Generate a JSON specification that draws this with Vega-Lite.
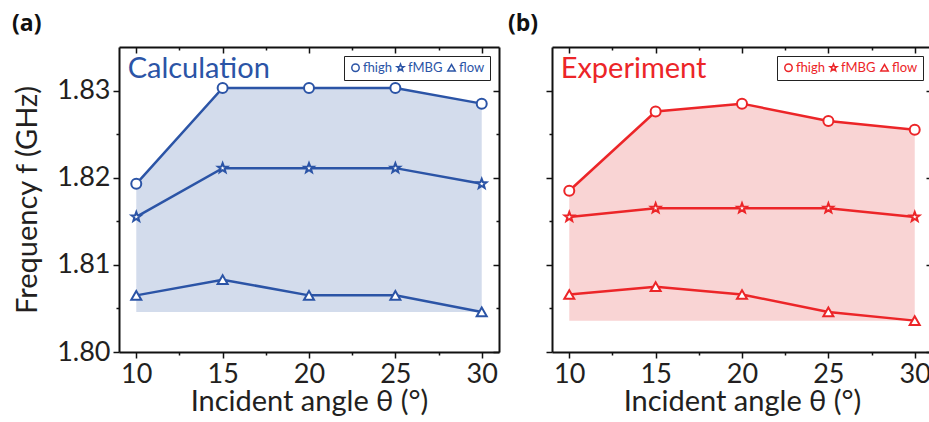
{
  "$schema": "https://vega.github.io/schema/vega-lite/v6.json",
  "background": "white",
  "padding": {"left": 12, "top": 13, "right": 0, "bottom": 0},
  "bounds": "flush",
  "spacing": 53,
  "config": {
    "font": "Lato",
    "view": {"stroke": null},
    "axis": {
      "labelFont": "Lato", "titleFont": "Lato",
      "labelColor": "#231F20", "titleColor": "#231F20",
      "titleFontWeight": "normal", "grid": false,
      "domainColor": "#111", "domainWidth": 2,
      "tickColor": "#111", "tickWidth": 1.5,
      "labelFontSize": 27, "titleFontSize": 29
    }
  },
  "datasets": {
    "calc": [
      {"series": "high", "angle": 10, "f": 1.8193},
      {"series": "high", "angle": 15, "f": 1.8303},
      {"series": "high", "angle": 20, "f": 1.8303},
      {"series": "high", "angle": 25, "f": 1.8303},
      {"series": "high", "angle": 30, "f": 1.8285},
      {"series": "MBG", "angle": 10, "f": 1.8155},
      {"series": "MBG", "angle": 15, "f": 1.8211},
      {"series": "MBG", "angle": 20, "f": 1.8211},
      {"series": "MBG", "angle": 25, "f": 1.8211},
      {"series": "MBG", "angle": 30, "f": 1.8193},
      {"series": "low", "angle": 10, "f": 1.8065},
      {"series": "low", "angle": 15, "f": 1.8083},
      {"series": "low", "angle": 20, "f": 1.8065},
      {"series": "low", "angle": 25, "f": 1.8065},
      {"series": "low", "angle": 30, "f": 1.8046}
    ],
    "exp": [
      {"series": "high", "angle": 10, "f": 1.8185},
      {"series": "high", "angle": 15, "f": 1.8276},
      {"series": "high", "angle": 20, "f": 1.8285},
      {"series": "high", "angle": 25, "f": 1.8265},
      {"series": "high", "angle": 30, "f": 1.8255},
      {"series": "MBG", "angle": 10, "f": 1.8155},
      {"series": "MBG", "angle": 15, "f": 1.8165},
      {"series": "MBG", "angle": 20, "f": 1.8165},
      {"series": "MBG", "angle": 25, "f": 1.8165},
      {"series": "MBG", "angle": 30, "f": 1.8155},
      {"series": "low", "angle": 10, "f": 1.8066},
      {"series": "low", "angle": 15, "f": 1.8075},
      {"series": "low", "angle": 20, "f": 1.8066},
      {"series": "low", "angle": 25, "f": 1.8046},
      {"series": "low", "angle": 30, "f": 1.8036}
    ]
  },
  "resolve": {"scale": {"shape": "independent"}, "legend": {"shape": "independent"}},
  "hconcat": [
    {
      "width": 380, "height": 305,
      "title": {"text": "(a)", "anchor": "start", "frame": "group", "dx": -107, "offset": 10, "fontSize": 23, "fontWeight": "bold", "font": "Open Sans", "color": "#111"},
      "data": {"name": "calc"},
      "resolve": {"axis": {"x": "independent", "y": "independent"}},
      "layer": [
        {
          "transform": [{"filter": "datum.series == 'high'"}],
          "mark": {"type": "area", "color": "#D3DCEC", "opacity": 1},
          "encoding": {
            "x": {"field": "angle", "type": "quantitative", "scale": {"domain": [9, 31], "nice": false},
              "axis": {"orient": "bottom", "values": [10, 15, 20, 25, 30], "format": "d", "tickSize": 6,
                "labelOverlap": false, "labelFlush": false, "labelPadding": 3, "titlePadding": 0,
                "title": "Incident angle θ (°)"}},
            "y": {"field": "f", "type": "quantitative", "scale": {"domain": [1.8, 1.835], "nice": false, "zero": false},
              "axis": {"orient": "left", "values": [1.8, 1.81, 1.82, 1.83], "format": ".2f", "tickSize": 6,
                "labelOverlap": false, "labelFlush": false, "labelPadding": 3, "titlePadding": 14,
                "title": "Frequency f (GHz)"}},
            "y2": {"datum": 1.8046}
          }
        },
        {
          "mark": {"type": "line", "color": "#2B54A6", "strokeWidth": 2.5},
          "encoding": {
            "x": {"field": "angle", "type": "quantitative",
              "axis": {"orient": "top", "values": [10, 15, 20, 25, 30], "labels": false, "title": null, "tickSize": -6}},
            "y": {"field": "f", "type": "quantitative",
              "axis": {"orient": "right", "values": [1.8, 1.81, 1.82, 1.83], "labels": false, "title": null, "tickSize": -6}},
            "detail": {"field": "series"}
          }
        },
        {
          "mark": {"type": "point", "filled": true, "fill": "white", "stroke": "#2B54A6", "strokeWidth": 2, "opacity": 1, "size": 100},
          "encoding": {
            "x": {"field": "angle", "type": "quantitative",
              "axis": {"orient": "bottom", "values": [12.5, 17.5, 22.5, 27.5], "labels": false, "title": null, "domain": false, "tickSize": 3}},
            "y": {"field": "f", "type": "quantitative",
              "axis": {"orient": "left", "values": [1.805, 1.815, 1.825], "labels": false, "title": null, "domain": false, "tickSize": 3}},
            "shape": {"field": "series", "type": "nominal",
              "scale": {"domain": ["high", "MBG", "low"], "range": ["circle", "M0,-1L0.247,-0.34L0.951,-0.309L0.399,0.13L0.588,0.809L0,0.42L-0.588,0.809L-0.399,0.13L-0.951,-0.309L-0.247,-0.34Z", "triangle-up"]},
              "legend": {"orient": "top-right", "direction": "horizontal", "title": null, "offset": 9,
                "strokeColor": "#222", "fillColor": "white", "padding": 5, "cornerRadius": 0,
                "labelFontSize": 13, "labelColor": "#2B54A6", "labelFont": "Lato",
                "symbolSize": 55, "columnPadding": 1, "labelOffset": 1, "labelExpr": "'f' + datum.label",
                "encode": {"symbols": {"update": {"stroke": {"value": "#2B54A6"}, "strokeWidth": {"value": 1.5}, "fill": {"value": "white"}, "opacity": {"value": 1}}}}}}
          }
        },
        {
          "data": {"values": [{}]},
          "mark": {"type": "text", "text": "Calculation", "align": "left", "baseline": "alphabetic", "fontSize": 29, "color": "#2B54A6", "font": "Lato"},
          "encoding": {
            "x": {"datum": 9.5, "type": "quantitative",
              "axis": {"orient": "top", "values": [12.5, 17.5, 22.5, 27.5], "labels": false, "title": null, "domain": false, "tickSize": -3}},
            "y": {"datum": 1.8315, "type": "quantitative",
              "axis": {"orient": "right", "values": [1.805, 1.815, 1.825], "labels": false, "title": null, "domain": false, "tickSize": -3}}
          }
        }
      ]
    },
    {
      "width": 380, "height": 305,
      "title": {"text": "(b)", "anchor": "start", "frame": "group", "dx": -44, "offset": 10, "fontSize": 23, "fontWeight": "bold", "font": "Open Sans", "color": "#111"},
      "data": {"name": "exp"},
      "resolve": {"axis": {"x": "independent", "y": "independent"}},
      "layer": [
        {
          "transform": [{"filter": "datum.series == 'high'"}],
          "mark": {"type": "area", "color": "#F9D4D4", "opacity": 1},
          "encoding": {
            "x": {"field": "angle", "type": "quantitative", "scale": {"domain": [9, 31], "nice": false},
              "axis": {"orient": "bottom", "values": [10, 15, 20, 25, 30], "format": "d", "tickSize": 6,
                "labelOverlap": false, "labelFlush": false, "labelPadding": 3, "titlePadding": 0,
                "title": "Incident angle θ (°)"}},
            "y": {"field": "f", "type": "quantitative", "scale": {"domain": [1.8, 1.835], "nice": false, "zero": false},
              "axis": {"orient": "left", "values": [1.8, 1.81, 1.82, 1.83], "labels": false, "title": null, "tickSize": 6}},
            "y2": {"datum": 1.8036}
          }
        },
        {
          "mark": {"type": "line", "color": "#EC2528", "strokeWidth": 2.5},
          "encoding": {
            "x": {"field": "angle", "type": "quantitative",
              "axis": {"orient": "top", "values": [10, 15, 20, 25, 30], "labels": false, "title": null, "tickSize": -6}},
            "y": {"field": "f", "type": "quantitative",
              "axis": {"orient": "right", "values": [1.8, 1.81, 1.82, 1.83], "labels": false, "title": null, "tickSize": -6}},
            "detail": {"field": "series"}
          }
        },
        {
          "mark": {"type": "point", "filled": true, "fill": "white", "stroke": "#EC2528", "strokeWidth": 2, "opacity": 1, "size": 100},
          "encoding": {
            "x": {"field": "angle", "type": "quantitative",
              "axis": {"orient": "bottom", "values": [12.5, 17.5, 22.5, 27.5], "labels": false, "title": null, "domain": false, "tickSize": 3}},
            "y": {"field": "f", "type": "quantitative",
              "axis": {"orient": "left", "values": [1.805, 1.815, 1.825], "labels": false, "title": null, "domain": false, "tickSize": 3}},
            "shape": {"field": "series", "type": "nominal",
              "scale": {"domain": ["high", "MBG", "low"], "range": ["circle", "M0,-1L0.247,-0.34L0.951,-0.309L0.399,0.13L0.588,0.809L0,0.42L-0.588,0.809L-0.399,0.13L-0.951,-0.309L-0.247,-0.34Z", "triangle-up"]},
              "legend": {"orient": "top-right", "direction": "horizontal", "title": null, "offset": 9,
                "strokeColor": "#222", "fillColor": "white", "padding": 5, "cornerRadius": 0,
                "labelFontSize": 13, "labelColor": "#EC2528", "labelFont": "Lato",
                "symbolSize": 55, "columnPadding": 1, "labelOffset": 1, "labelExpr": "'f' + datum.label",
                "encode": {"symbols": {"update": {"stroke": {"value": "#EC2528"}, "strokeWidth": {"value": 1.5}, "fill": {"value": "white"}, "opacity": {"value": 1}}}}}}
          }
        },
        {
          "data": {"values": [{}]},
          "mark": {"type": "text", "text": "Experiment", "align": "left", "baseline": "alphabetic", "fontSize": 29, "color": "#EC2528", "font": "Lato"},
          "encoding": {
            "x": {"datum": 9.5, "type": "quantitative",
              "axis": {"orient": "top", "values": [12.5, 17.5, 22.5, 27.5], "labels": false, "title": null, "domain": false, "tickSize": -3}},
            "y": {"datum": 1.8315, "type": "quantitative",
              "axis": {"orient": "right", "values": [1.805, 1.815, 1.825], "labels": false, "title": null, "domain": false, "tickSize": -3}}
          }
        }
      ]
    }
  ]
}
